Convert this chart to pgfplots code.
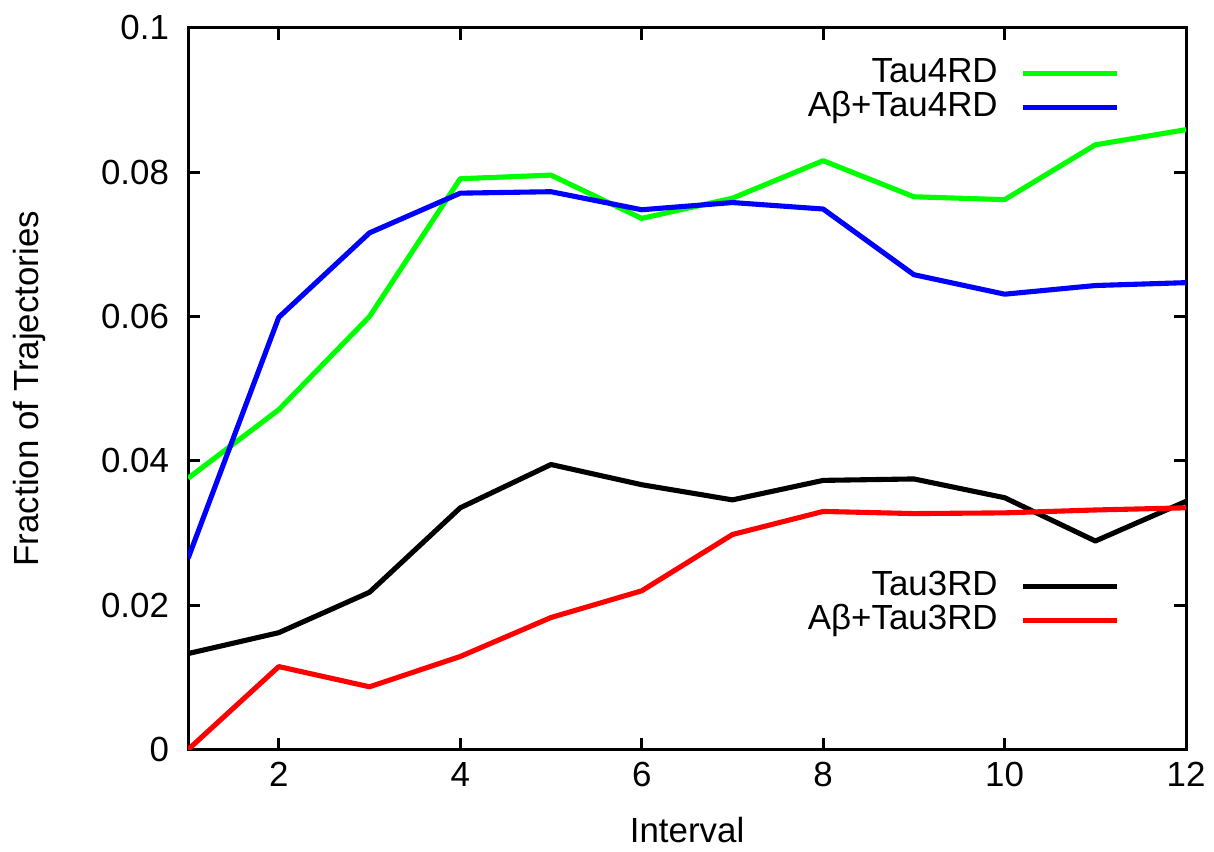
\documentclass[border=0pt]{standalone}
\usepackage{fontspec}
\setmainfont{Liberation Sans}
\usepackage{pgfplots}
\pgfplotsset{compat=1.18}
\usetikzlibrary{calc}

\definecolor{gpgreen}{RGB}{0,255,0}
\definecolor{gpblue}{RGB}{0,0,255}
\definecolor{gpred}{RGB}{255,0,0}

\newcommand{\chartfont}{\fontsize{13}{15}\selectfont}

\pgfplotsset{
  frame/.style={
    width=372pt, height=269pt, scale only axis,
    xmin=1, xmax=12, ymin=0, ymax=0.1,
    xtick={2,4,...,12},
    ytick={0,0.02,0.04,0.06,0.08,0.1},
    scaled y ticks=false,
    yticklabel style={/pgf/number format/fixed, /pgf/number format/precision=2, xshift=-3.6pt},
    xticklabel style={yshift=-1.2pt},
    /pgf/number format/assume math mode=true,
    tick label style={font=\chartfont},
    label style={font=\chartfont},
    tick align=inside,
    major tick length=4.5pt,
    every tick/.style={black, line width=1.1pt},
    axis line style={line width=1.1pt},
    legend plot pos=right,
    legend cell align=right,
    legend image code/.code={\draw[##1] (0pt,0pt) -- (35pt,0pt);},
    legend style={draw=none, fill=none, font=\chartfont, inner sep=0pt,
      nodes={inner sep=0pt, text height=9.5pt, text depth=3.2pt},
      /tikz/every odd column/.append style={column sep=8.6pt}},
    every axis plot/.append style={line width=1.9pt, line join=round},
  },
}

\begin{document}
\begin{tikzpicture}
\begin{axis}[
    frame,
    xlabel={Interval},
    ylabel={Fraction of Trajectories},
    xlabel style={at={(axis description cs:0.5,-0.111)}, anchor=center},
    ylabel style={at={(axis description cs:-0.159,0.5)}, anchor=center},
    legend style={at={(0.934,0.913)}, anchor=east},
]
\addplot[gpgreen] coordinates {
  (1,0.0376) (2,0.0471) (3,0.0600) (4,0.0791) (5,0.0796) (6,0.0736)
  (7,0.0764) (8,0.0816) (9,0.0766) (10,0.0762) (11,0.0838) (12,0.0859)
};
\addlegendentry{Tau4RD}
\addplot[gpblue] coordinates {
  (1,0.0265) (2,0.0599) (3,0.0716) (4,0.0771) (5,0.0773) (6,0.0748)
  (7,0.0758) (8,0.0749) (9,0.0658) (10,0.0631) (11,0.0643) (12,0.0647)
};
\addlegendentry{Aβ+Tau4RD}
\coordinate (sw) at (rel axis cs:0,0);
\coordinate (ne) at (rel axis cs:1,1);
\end{axis}
\begin{axis}[
    frame,
    hide axis,
    legend style={at={(0.934,0.202)}, anchor=east},
]
\addplot[black] coordinates {
  (1,0.0133) (2,0.0162) (3,0.0218) (4,0.0335) (5,0.0395) (6,0.0367)
  (7,0.0346) (8,0.0373) (9,0.0375) (10,0.0349) (11,0.0289) (12,0.0344)
};
\addlegendentry{Tau3RD}
\addplot[gpred] coordinates {
  (1,0.0) (2,0.0115) (3,0.0087) (4,0.0129) (5,0.0183) (6,0.0220)
  (7,0.0298) (8,0.0330) (9,0.0327) (10,0.0328) (11,0.0332) (12,0.0335)
};
\addlegendentry{Aβ+Tau3RD}
\end{axis}
\pgfresetboundingbox
\path ($(sw)+(-70.1pt,-38.1pt)$) rectangle ($(ne)+(10.4pt,10.4pt)$);
\end{tikzpicture}
\end{document}
